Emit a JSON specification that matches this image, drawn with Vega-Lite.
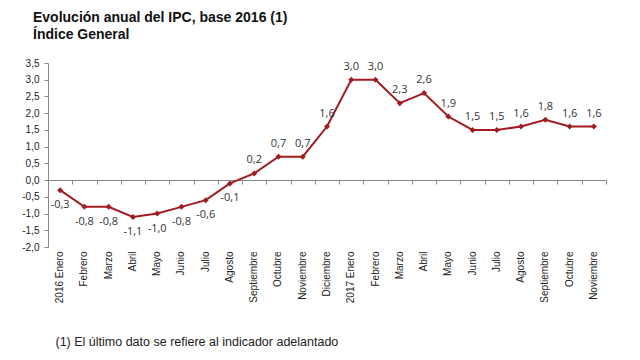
{
  "$schema": "https://vega.github.io/schema/vega-lite/v6.json",
  "autosize": {"type": "none"},
  "width": 558,
  "height": 184,
  "padding": {"left": 48, "top": 63, "right": 34, "bottom": 113},
  "background": "white",
  "config": {
    "locale": {"number": {"decimal": ",", "thousands": ".", "grouping": [3], "currency": ["", " €"], "minus": "-"}},
    "view": {"stroke": null},
    "font": "Liberation Sans"
  },
  "title": {
    "text": ["Evolución anual del IPC, base 2016 (1)", "Índice General"],
    "anchor": "start",
    "frame": "group",
    "dx": -15,
    "offset": 16,
    "fontSize": 14,
    "fontWeight": "bold",
    "font": "Liberation Sans",
    "color": "#111",
    "lineHeight": 17
  },
  "data": {"values": [
    {"mes": "2016 Enero", "ipc": -0.3},
    {"mes": "Febrero", "ipc": -0.8},
    {"mes": "Marzo", "ipc": -0.8},
    {"mes": "Abril", "ipc": -1.1},
    {"mes": "Mayo", "ipc": -1.0},
    {"mes": "Junio", "ipc": -0.8},
    {"mes": "Julio", "ipc": -0.6},
    {"mes": "Agosto", "ipc": -0.1},
    {"mes": "Septiembre", "ipc": 0.2},
    {"mes": "Octubre", "ipc": 0.7},
    {"mes": "Noviembre", "ipc": 0.7},
    {"mes": "Diciembre", "ipc": 1.6},
    {"mes": "2017 Enero", "ipc": 3.0},
    {"mes": "Febrero\u200b", "ipc": 3.0},
    {"mes": "Marzo\u200b", "ipc": 2.3},
    {"mes": "Abril\u200b", "ipc": 2.6},
    {"mes": "Mayo\u200b", "ipc": 1.9},
    {"mes": "Junio\u200b", "ipc": 1.5},
    {"mes": "Julio\u200b", "ipc": 1.5},
    {"mes": "Agosto\u200b", "ipc": 1.6},
    {"mes": "Septiembre\u200b", "ipc": 1.8},
    {"mes": "Octubre\u200b", "ipc": 1.6},
    {"mes": "Noviembre\u200b", "ipc": 1.6}
  ]},
  "resolve": {"axis": {"x": "independent", "y": "independent"}},
  "layer": [
    {
      "mark": {"type": "rule", "color": "#888", "strokeWidth": 1},
      "encoding": {
        "x": {"field": "mes", "type": "ordinal", "sort": null,
          "axis": {"orient": "bottom", "offset": -67, "labels": false, "title": null, "domainColor": "#888", "tickColor": "#888", "tickSize": 4, "tickBand": "extent", "grid": false}},
        "y": {"datum": 0, "type": "quantitative", "scale": {"domain": [-2, 3.5], "nice": false}, "axis": null},
        "opacity": {"value": 0}
      }
    },
    {
      "mark": {"type": "line", "color": "#A01C20", "strokeWidth": 2,
        "point": {"shape": "diamond", "size": 36, "filled": true, "color": "#A01C20"}},
      "encoding": {
        "x": {"field": "mes", "type": "ordinal", "sort": null,
          "axis": {"orient": "bottom", "domain": false, "ticks": false, "labelAngle": -90, "labelPadding": 4,
            "labelFontSize": 10, "labelColor": "#222", "labelFont": "Liberation Sans",
            "title": "(1) El último dato se refiere al indicador adelantado",
            "titleX": 7, "titleY": 94, "titleAlign": "left", "titleBaseline": "middle",
            "titleFontSize": 12.5, "titleFontWeight": "normal", "titleColor": "#222", "titleFont": "Liberation Sans"}},
        "y": {"field": "ipc", "type": "quantitative", "scale": {"domain": [-2, 3.5], "nice": false},
          "axis": {"orient": "left", "values": [-2, -1.5, -1, -0.5, 0, 0.5, 1, 1.5, 2, 2.5, 3, 3.5], "format": ".1f",
            "grid": false, "title": null, "domainColor": "#888", "tickColor": "#888", "tickSize": 4, "labelPadding": 5,
            "labelFontSize": 10, "labelColor": "#222", "labelFont": "Liberation Sans"}}
      }
    },
    {
      "transform": [{"filter": "datum.ipc < 0"}],
      "mark": {"type": "text", "dy": 15, "fontSize": 11, "font": "Open Sans", "color": "#333"},
      "encoding": {
        "x": {"field": "mes", "type": "ordinal", "sort": null, "axis": null},
        "y": {"field": "ipc", "type": "quantitative", "scale": {"domain": [-2, 3.5], "nice": false}, "axis": null},
        "text": {"field": "ipc", "type": "quantitative", "format": ".1f"}
      }
    },
    {
      "transform": [{"filter": "datum.ipc >= 0"}],
      "mark": {"type": "text", "dy": -13, "fontSize": 11, "font": "Open Sans", "color": "#333"},
      "encoding": {
        "x": {"field": "mes", "type": "ordinal", "sort": null, "axis": null},
        "y": {"field": "ipc", "type": "quantitative", "scale": {"domain": [-2, 3.5], "nice": false}, "axis": null},
        "text": {"field": "ipc", "type": "quantitative", "format": ".1f"}
      }
    }
  ]
}
